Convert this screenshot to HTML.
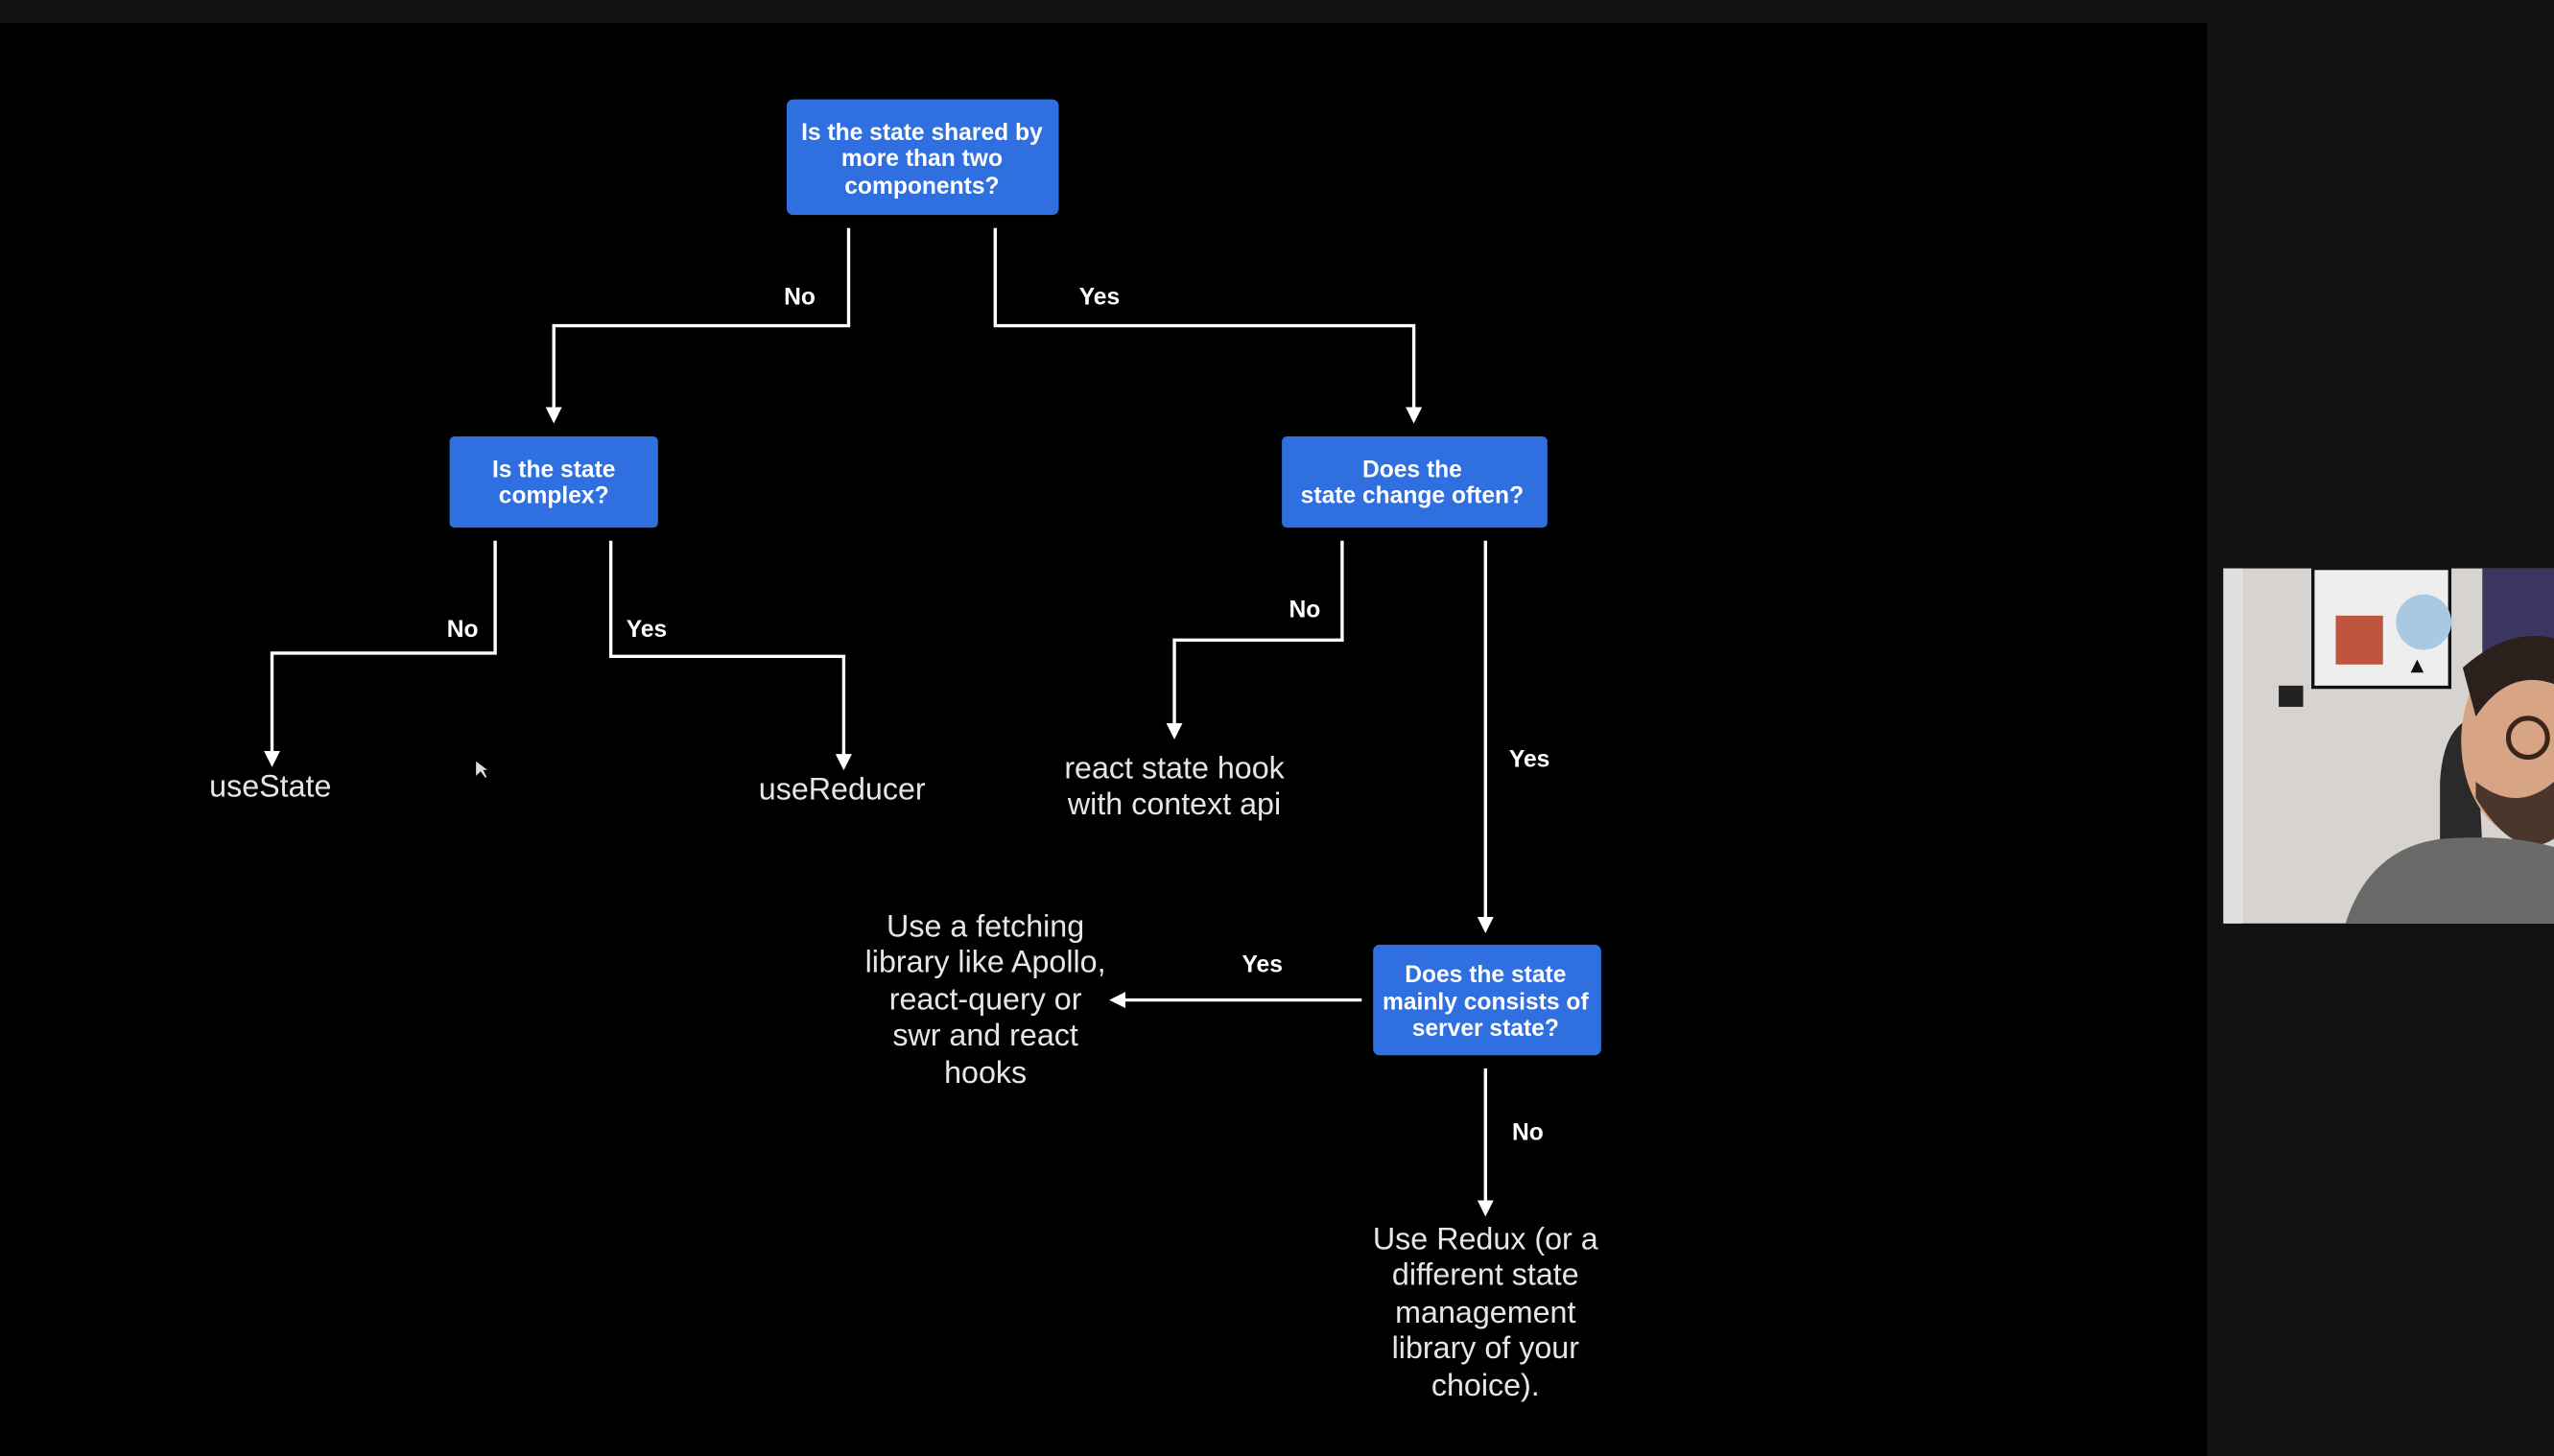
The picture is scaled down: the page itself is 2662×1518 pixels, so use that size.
<!DOCTYPE html>
<html><head><meta charset="utf-8"><style>
html,body{margin:0;padding:0;background:#111;}
svg{display:block;}
text{font-family:"Liberation Sans",Arial,sans-serif;}
.b{fill:#fff;font-weight:bold;font-size:14.5px;text-anchor:middle;}
.l{fill:#fff;font-weight:bold;font-size:14.5px;text-anchor:middle;}
.t{fill:#e6e6e6;font-size:19px;text-anchor:middle;}
</style></head><body>
<svg width="2662" height="1518" viewBox="0 0 1568 894" preserveAspectRatio="none" xmlns="http://www.w3.org/2000/svg">
<defs><marker id="a" markerWidth="10" markerHeight="10" refX="8" refY="5" orient="auto" markerUnits="userSpaceOnUse"><path d="M0,0 L10,5 L0,10 Z" fill="#fff"/></marker></defs>
<rect x="0" y="0" width="1568" height="894" fill="#121212"/>
<rect x="0" y="14" width="1355" height="880" fill="#000"/>
<!-- boxes -->
<rect x="483" y="61" width="167" height="71" rx="4" fill="#2f6fdf"/>
<text class="b" x="566" y="86">Is the state shared by</text>
<text class="b" x="566" y="102">more than two</text>
<text class="b" x="566" y="119">components?</text>
<rect x="276" y="268" width="128" height="56" rx="3" fill="#2f6fdf"/>
<text class="b" x="340" y="293">Is the state</text>
<text class="b" x="340" y="309">complex?</text>
<rect x="787" y="268" width="163" height="56" rx="3" fill="#2f6fdf"/>
<text class="b" x="867" y="293">Does the</text>
<text class="b" x="867" y="309">state change often?</text>
<rect x="843" y="580" width="140" height="68" rx="4" fill="#2f6fdf"/>
<text class="b" x="912" y="603">Does the state</text>
<text class="b" x="912" y="620">mainly consists of</text>
<text class="b" x="912" y="636">server state?</text>
<!-- connectors -->
<g fill="none" stroke="#fff" stroke-width="2">
<path d="M521,140 V200 H340 V258" marker-end="url(#a)"/>
<path d="M611,140 V200 H868 V258" marker-end="url(#a)"/>
<path d="M304,332 V401 H167 V469" marker-end="url(#a)"/>
<path d="M375,332 V403 H518 V471" marker-end="url(#a)"/>
<path d="M824,332 V393 H721 V452" marker-end="url(#a)"/>
<path d="M912,332 V571" marker-end="url(#a)"/>
<path d="M836,614 H683" marker-end="url(#a)"/>
<path d="M912,656 V745" marker-end="url(#a)"/>
</g>
<text class="l" x="491" y="187">No</text>
<text class="l" x="675" y="187">Yes</text>
<text class="l" x="284" y="391">No</text>
<text class="l" x="397" y="391">Yes</text>
<text class="l" x="801" y="379">No</text>
<text class="l" x="939" y="471">Yes</text>
<text class="l" x="775" y="597">Yes</text>
<text class="l" x="938" y="700">No</text>
<!-- outcomes -->
<text class="t" x="166" y="489">useState</text>
<text class="t" x="517" y="491">useReducer</text>
<text class="t" x="721" y="478">react state hook</text>
<text class="t" x="721" y="500">with context api</text>
<text class="t" x="605" y="575">Use a fetching</text>
<text class="t" x="605" y="597">library like Apollo,</text>
<text class="t" x="605" y="620">react-query or</text>
<text class="t" x="605" y="642">swr and react</text>
<text class="t" x="605" y="665">hooks</text>
<text class="t" x="912" y="767">Use Redux (or a</text>
<text class="t" x="912" y="789">different state</text>
<text class="t" x="912" y="812">management</text>
<text class="t" x="912" y="834">library of your</text>
<text class="t" x="912" y="857">choice).</text>
<!-- cursor -->
<path d="M292,467 L292,477 L295,474 L298,478 L299,477 L297,473 L300,473 Z" fill="#ddd" stroke="#000" stroke-width="0.5"/>
<!-- webcam -->
<rect x="1365" y="349" width="203" height="218" fill="#d6d3d0"/>
<rect x="1365" y="349" width="12" height="218" fill="#e2e0de"/>
<rect x="1420" y="349" width="84" height="73" fill="#eee" stroke="#111" stroke-width="2"/>
<rect x="1434" y="378" width="29" height="30" fill="#c0553f"/>
<circle cx="1488" cy="382" r="17" fill="#a9c8e2"/>
<path d="M1480,413 L1484,405 L1488,413 Z" fill="#111"/>
<rect x="1399" y="421" width="15" height="13" fill="#222"/>
<rect x="1524" y="349" width="44" height="60" fill="#3a3660"/>
<path d="M1498,480 Q1500,445 1520,440 L1525,540 L1498,540 Z" fill="#2a2a2a"/>
<ellipse cx="1553" cy="455" rx="42" ry="60" fill="#d8a486"/>
<path d="M1512,410 Q1540,385 1568,392 L1568,420 Q1540,410 1520,440 Z" fill="#2b201c"/>
<path d="M1520,490 Q1545,530 1568,515 L1568,480 Q1545,500 1520,480 Z" fill="#4a362c"/>
<circle cx="1552" cy="453" r="12" fill="none" stroke="#3b2418" stroke-width="3"/>
<path d="M1440,567 Q1455,520 1500,515 Q1540,512 1568,520 L1568,567 Z" fill="#6a6a68"/>
</svg>
</body></html>
